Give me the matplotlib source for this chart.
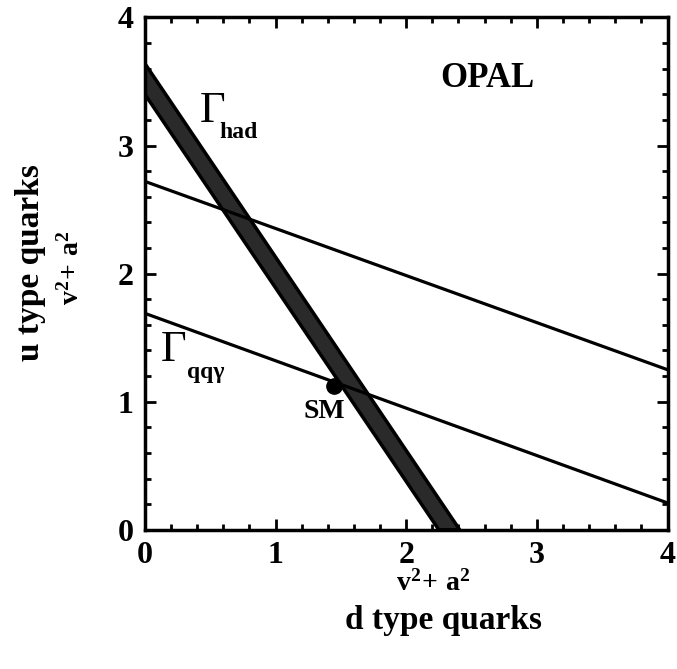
import matplotlib
matplotlib.use('Agg')
import matplotlib.pyplot as plt
from matplotlib.ticker import MultipleLocator

plt.rcParams['font.family'] = 'Liberation Serif'
plt.rcParams['font.weight'] = 'bold'
plt.rcParams['mathtext.fontset'] = 'custom'
plt.rcParams['mathtext.rm'] = 'Liberation Serif:bold'
plt.rcParams['mathtext.bf'] = 'Liberation Serif:bold'
plt.rcParams['mathtext.it'] = 'Liberation Serif:bold'

# Gamma_had band (upper and lower edges)
band_x = [0.0, 2.41]
band_upper = [3.64, 0.0]
band_lower_x = [0.0, 2.25]
band_lower = [3.40, 0.0]

# Gamma_qq-gamma lines
line_x = [0.0, 4.0]
line_upper = [2.72, 1.25]
line_lower = [1.69, 0.21]

# Standard Model point
sm_x = [1.45]
sm_y = [1.12]

fig = plt.figure(figsize=(6.77, 6.69), dpi=100)
ax = fig.add_axes([0.214, 0.208, 0.772, 0.766])

# band as a polygon between the two edges
poly_x = band_x + band_lower_x[::-1]
poly_y = band_upper + band_lower[::-1]
ax.fill(poly_x, poly_y, facecolor='#2a2a2a', edgecolor='black', linewidth=2.5, zorder=2)

ax.plot(line_x, line_upper, color='black', linewidth=2.3, zorder=3)
ax.plot(line_x, line_lower, color='black', linewidth=2.3, zorder=3)
ax.plot(sm_x, sm_y, 'o', color='black', markersize=11, zorder=4)

ax.set_xlim(0, 4)
ax.set_ylim(0, 4)
ax.xaxis.set_major_locator(MultipleLocator(1))
ax.yaxis.set_major_locator(MultipleLocator(1))
ax.xaxis.set_minor_locator(MultipleLocator(0.2))
ax.yaxis.set_minor_locator(MultipleLocator(0.2))
ax.tick_params(which='both', direction='in', top=True, right=True, width=2)
ax.tick_params(which='major', length=8, labelsize=23, pad=8)
ax.tick_params(which='minor', length=4)
for lbl in ax.get_xticklabels() + ax.get_yticklabels():
    lbl.set_fontweight('bold')
for sp in ax.spines.values():
    sp.set_linewidth(2.5)

# annotations
ax.text(2.62, 3.52, 'OPAL', fontsize=25, fontweight='bold', ha='center', va='center')
ax.text(0.42, 3.27, '\u0393', fontsize=32, fontweight='normal', ha='left', va='center')
ax.text(0.57, 3.1, 'had', fontsize=17, fontweight='bold', ha='left', va='center')
ax.text(0.12, 1.40, '\u0393', fontsize=32, fontweight='normal', ha='left', va='center')
ax.text(0.32, 1.23, 'qq\u03b3', fontsize=17, fontweight='bold', ha='left', va='center')
ax.text(1.37, 0.92, 'SM', fontsize=20, fontweight='bold', ha='center', va='center')

# axis labels
fig.text(0.64, 0.128, '$\\mathbf{v^2\\!+\\,a^2}$', fontsize=20,
         ha='center', va='center')
fig.text(0.655, 0.072, 'd type quarks', fontsize=24, fontweight='bold', ha='center', va='center')
fig.text(0.045, 0.607, 'u type quarks', fontsize=24, fontweight='bold', ha='center', va='center',
         rotation=90)
fig.text(0.105, 0.60, '$\\mathbf{v^2\\!+\\,a^2}$', fontsize=20,
         ha='center', va='center', rotation=90)

fig.savefig('out.png', dpi=100)
